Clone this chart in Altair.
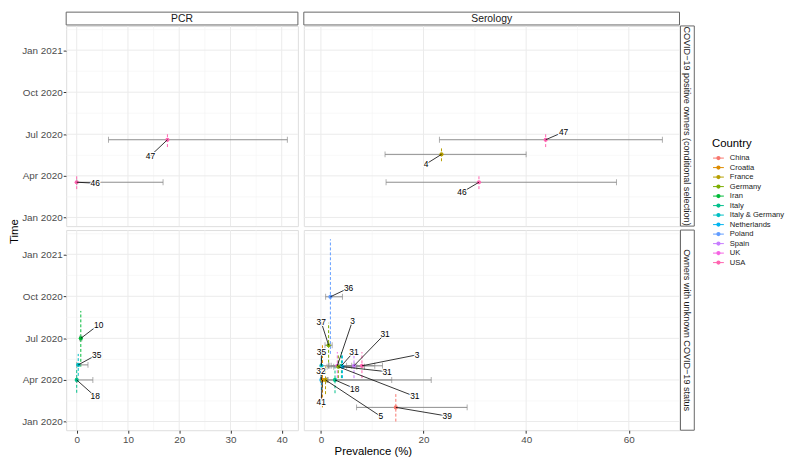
import altair as alt
import pandas as pd

# ---------------- data ----------------
countries = ["China", "Croatia", "France", "Germany", "Iran", "Italy", "Italy & Germany",
             "Netherlands", "Poland", "Spain", "UK", "USA"]
palette = ["#F8766D", "#DE8C00", "#B79F00", "#7CAE00", "#00BA38", "#00C08B", "#00BFC4",
           "#00B4F0", "#619CFF", "#C77CFF", "#F564E3", "#FF64B0"]

test = ["PCR", "PCR", "Serology", "Serology", "Serology",
        "PCR", "PCR", "PCR",
        "Serology", "Serology", "Serology", "Serology", "Serology", "Serology", "Serology",
        "Serology", "Serology", "Serology", "Serology", "Serology", "Serology", "Serology"]
group = ["pos", "pos", "pos", "pos", "pos",
         "unk", "unk", "unk",
         "unk", "unk", "unk", "unk", "unk", "unk", "unk",
         "unk", "unk", "unk", "unk", "unk", "unk", "unk"]
study = ["46", "47", "47", "4", "46",
         "10", "35", "18",
         "36", "37", "35", "32", "41", "5", "18",
         "39", "3", "31", "31", "3", "31", "31"]
country = ["USA", "USA", "USA", "France", "USA",
           "Iran", "Italy & Germany", "Italy",
           "Poland", "Germany", "Italy & Germany", "Netherlands", "Croatia", "France", "Italy",
           "China", "UK", "Italy", "Spain", "USA", "Netherlands", "Germany"]
prevalence = [0.0, 17.7, 43.8, 23.5, 30.8,
              0.8, 0.3, 0.0,
              1.85, 1.5, 0.1, 0.1, 0.3, 0.9, 2.75,
              14.6, 3.2, 4.0, 6.45, 8.0, 4.2, 3.4]
ci_low = [0.0, 6.2, 23.1, 12.5, 12.7,
          0.6, 0.0, 0.0,
          0.92, 0.8, 0.0, 0.0, 0.0, 0.0, 1.3,
          6.95, 1.6, 2.0, 3.5, 5.0, 2.5, 1.2]
ci_high = [16.85, 41.1, 66.55, 40.0, 57.6,
           1.0, 2.2, 3.15,
           4.2, 2.2, 1.5, 1.0, 1.4, 21.5, 13.8,
           28.5, 6.0, 6.5, 10.5, 12.0, 7.0, 8.5]
mid_date = ["2020-03-18", "2020-06-19", "2020-06-19", "2020-05-18", "2020-03-18",
            "2020-07-01", "2020-05-04", "2020-04-01",
            "2020-09-30", "2020-06-16", "2020-05-02", "2020-04-01", "2020-04-01", "2020-04-01", "2020-04-01",
            "2020-02-01", "2020-05-02", "2020-05-02", "2020-05-02", "2020-05-02", "2020-04-30", "2020-04-30"]
start_date = ["2020-03-03", "2020-06-03", "2020-06-03", "2020-05-03", "2020-03-03",
              "2020-04-30", "2020-04-10", "2020-03-04",
              "2020-05-28", "2020-04-28", "2020-04-10", "2020-03-10", "2020-02-01", "2020-03-01", "2020-03-03",
              "2020-01-01", "2020-04-05", "2020-04-05", "2020-04-05", "2020-04-05", "2020-04-05", "2020-04-05"]
end_date = ["2020-04-01", "2020-07-02", "2020-07-02", "2020-06-01", "2020-04-01",
            "2020-08-30", "2020-05-28", "2020-04-28",
            "2021-02-03", "2020-08-04", "2020-05-28", "2020-04-22", "2020-06-18", "2020-05-01", "2020-05-02",
            "2020-03-01", "2020-06-01", "2020-06-01", "2020-06-01", "2020-06-01", "2020-05-26", "2020-05-26"]
label_x = [3.6, 14.4, 47.3, 20.5, 27.5,
           4.3, 3.9, 3.6,
           5.4, 0.05, 0.1, 0.0, 0.05, 11.7, 6.6,
           24.6, 6.15, 6.45, 12.5, 18.75, 12.9, 18.3]
label_date = ["2020-03-16", "2020-05-15", "2020-07-06", "2020-04-27", "2020-02-25",
              "2020-07-31", "2020-05-26", "2020-02-25",
              "2020-10-19", "2020-08-06", "2020-06-01", "2020-04-20", "2020-02-13", "2020-01-12", "2020-03-13",
              "2020-01-13", "2020-08-08", "2020-06-02", "2020-07-11", "2020-05-26", "2020-04-19", "2020-02-25"]

group_names = {"pos": "COVID\u221219 positive owners (conditional selection)",
               "unk": "Owners with unknown COVID\u221219 status"}

y_ticks = ["2020-01-01", "2020-04-01", "2020-07-01", "2020-10-01", "2021-01-01"]
y_minor = ["2020-02-15", "2020-05-16", "2020-08-16", "2020-11-16", "2021-02-15"]
y_range = ["2019-12-13", "2021-02-23"]

pcr_ticks = [0, 10, 20, 30, 40]
pcr_minor = [5, 15, 25, 35]
pcr_range = [-2.055, 43.155]
sero_ticks = [0, 20, 40, 60]
sero_minor = [10, 30, 50]
sero_range = [-3.33, 69.88]

df = pd.DataFrame({
    "test": test, "group": group, "study": study, "country": country,
    "prev": prevalence, "lo": ci_low, "hi": ci_high,
    "mid": mid_date, "start": start_date, "end": end_date,
    "lx": label_x, "ld": label_date,
})


def dt(s):
    y, m, d = (int(v) for v in s.split("-"))
    return alt.DateTime(year=y, month=m, date=d, utc=True)


H = 203
W_PCR = 235
W_SERO = 381
GAP = 6

cscale = alt.Scale(domain=countries, range=palette)

GRID = "#EBEBEB"
GRID_MINOR = "#F3F3F3"
GREY = "#8C8C8C"
FONT = "Liberation Sans"


def panel(test_name, grp, W, xrange_, xmajor, xminor, left, bottom, top_strip, right_strip):
    d = df[(df.test == test_name) & (df.group == grp)]
    xs = alt.Scale(domain=xrange_, nice=False, zero=False)
    ys = alt.Scale(type="utc", domain=[dt(v) for v in y_range], nice=False)

    if bottom:
        xkw = dict(values=xmajor, grid=False, domain=False, labelFontSize=10,
                   labelColor="#4D4D4D", tickColor="#333333", tickSize=3, labelPadding=1,
                   titleFontSize=11.5, titleFontWeight="normal", titleColor="black",
                   titlePadding=2)
        if test_name == "Serology":
            center = (W_PCR + GAP + W_SERO) / 2 - (W_PCR + GAP)
            xa = alt.Axis(title="Prevalence (%)", titleX=center, titleAlign="center", **xkw)
        else:
            xa = alt.Axis(title=None, **xkw)
    else:
        xa = None

    if left:
        ykw = dict(values=[dt(v) for v in y_ticks], format="%b %Y", grid=False, domain=False,
                   labelFontSize=10, labelColor="#4D4D4D", tickColor="#333333", tickSize=3,
                   labelPadding=1, titleFontSize=11.5, titleFontWeight="normal",
                   titleColor="black", titlePadding=0)
        if not bottom:
            ya = alt.Axis(title=None, **ykw)
        else:
            ya = alt.Axis(title="Time", titleY=1, titleX=-47, titleAlign="center", **ykw)
    else:
        ya = None

    def X(f):
        return alt.X(f, type="quantitative", scale=xs, axis=xa)

    def Y(f):
        return alt.Y(f, type="temporal", scale=ys, axis=ya)

    layers = []
    layers.append(alt.Chart(pd.DataFrame({"v": xminor})).mark_rule(color=GRID_MINOR, strokeWidth=0.6)
                  .encode(x=X("v")))
    layers.append(alt.Chart(pd.DataFrame({"d": y_minor})).mark_rule(color=GRID_MINOR, strokeWidth=0.6)
                  .encode(y=Y("d")))
    layers.append(alt.Chart(pd.DataFrame({"v": xmajor})).mark_rule(color=GRID, strokeWidth=1)
                  .encode(x=X("v")))
    layers.append(alt.Chart(pd.DataFrame({"d": y_ticks})).mark_rule(color=GRID, strokeWidth=1)
                  .encode(y=Y("d")))

    base = alt.Chart(d)
    layers.append(base.mark_rule(strokeDash=[3, 2], strokeWidth=1).encode(
        x=X("prev"), y=Y("start"), y2=alt.Y2("end"),
        stroke=alt.Stroke("country:N", scale=cscale, legend=None)))
    layers.append(base.mark_rule(color=GREY, strokeWidth=1).encode(
        x=X("lo"), x2=alt.X2("hi"), y=Y("mid")))
    layers.append(base.mark_tick(color=GREY, orient="vertical", size=6, thickness=1).encode(
        x=X("lo"), y=Y("mid")))
    layers.append(base.mark_tick(color=GREY, orient="vertical", size=6, thickness=1).encode(
        x=X("hi"), y=Y("mid")))
    layers.append(base.mark_point(size=18, filled=True, opacity=1).encode(
        x=X("prev"), y=Y("mid"),
        color=alt.Color("country:N", scale=cscale, legend=None)))
    layers.append(base.mark_rule(color="black", strokeWidth=0.8).encode(
        x=X("prev"), x2=alt.X2("lx"), y=Y("mid"), y2=alt.Y2("ld")))
    layers.append(base.mark_text(fontSize=8.5, font=FONT, color="white",
                                 stroke="white", strokeWidth=2.2).encode(
        x=X("lx"), y=Y("ld"), text="study:N"))
    layers.append(base.mark_text(fontSize=8.5, font=FONT, color="black").encode(
        x=X("lx"), y=Y("ld"), text="study:N"))

    if top_strip:
        s = alt.Chart(pd.DataFrame({"t": [test_name]}))
        layers.append(s.mark_rect(fill="white", stroke="#666666", strokeWidth=1).encode(
            x=alt.value(0), x2=alt.value(W), y=alt.value(-14), y2=alt.value(-1)))
        layers.append(s.mark_text(fontSize=10.5, font=FONT, color="#1A1A1A").encode(
            x=alt.value(W / 2), y=alt.value(-7.5), text="t:N"))
    if right_strip:
        s = alt.Chart(pd.DataFrame({"t": [group_names[grp]]}))
        layers.append(s.mark_rect(fill="white", stroke="#666666", strokeWidth=1).encode(
            x=alt.value(W + 1), x2=alt.value(W + 15), y=alt.value(0), y2=alt.value(H)))
        layers.append(s.mark_text(fontSize=9.2, font=FONT, color="#1A1A1A", angle=90).encode(
            x=alt.value(W + 8), y=alt.value(H / 2), text="t:N"))

    return alt.layer(*layers).properties(width=W, height=H)


# ---------------- legend (built with a point scale of its own) ----------------
leg_df = pd.DataFrame({"country": countries})
leg_y = alt.Y("country:N", sort=countries,
              scale=alt.Scale(type="point", domain=countries, range=[134, 240], padding=0),
              axis=None)
leg_c = alt.Color("country:N", scale=cscale, legend=None)
leg_base = alt.Chart(leg_df)
legend_chart = alt.layer(
    leg_base.mark_rule(strokeWidth=1).encode(x=alt.value(28), x2=alt.value(39), y=leg_y, color=leg_c),
    leg_base.mark_point(filled=True, size=18, opacity=1).encode(x=alt.value(33.5), y=leg_y, color=leg_c),
    leg_base.mark_text(align="left", baseline="middle", fontSize=7.7, font=FONT, color="#1A1A1A").encode(
        x=alt.value(45), y=leg_y, text="country:N"),
    alt.Chart(pd.DataFrame({"t": ["Country"]})).mark_text(
        align="left", baseline="middle", fontSize=11.5, font=FONT, color="black").encode(
        x=alt.value(27), y=alt.value(120), text="t:N"),
).properties(width=80, height=H, view=alt.ViewBackground(stroke="transparent"))

c11 = panel("PCR", "pos", W_PCR, pcr_range, pcr_ticks, pcr_minor, True, False, True, False)
c12 = panel("Serology", "pos", W_SERO, sero_range, sero_ticks, sero_minor, False, False, True, True)
c21 = panel("PCR", "unk", W_PCR, pcr_range, pcr_ticks, pcr_minor, True, True, False, False)
c22 = panel("Serology", "unk", W_SERO, sero_range, sero_ticks, sero_minor, False, True, False, True)

chart = alt.concat(c11, c12, legend_chart, c21, c22, columns=3, align="each", bounds="flush",
                   spacing={"row": 4, "column": GAP}).properties(
    padding=0
).configure_view(stroke="#666666", strokeWidth=1).configure(font=FONT)

chart.save("out.html", embed_options={"renderer": "svg", "actions": False})
